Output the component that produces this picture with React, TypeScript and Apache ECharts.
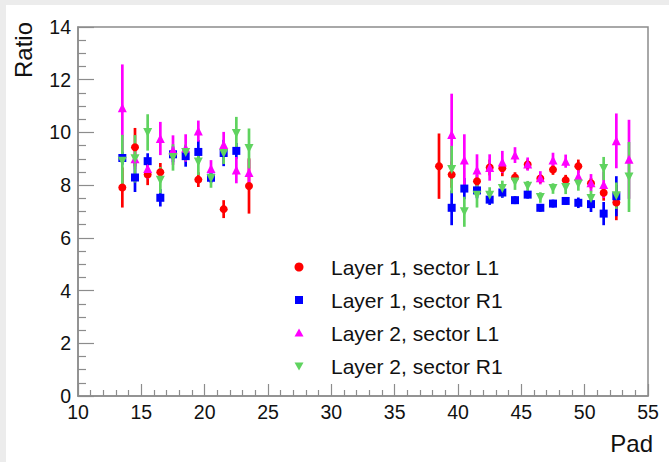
import React, { useEffect, useRef } from "react";
import * as echarts from "echarts";

// Layer 1, sector L1
const redPads = [13.5, 14.5, 15.5, 16.5, 19.5, 21.5, 23.5, 38.5, 39.5, 41.5, 42.5, 43.5, 44.5, 45.5, 46.5, 47.5, 48.5, 49.5, 50.5, 51.5, 52.5];
const redVals = [7.91, 9.44, 8.4, 8.49, 8.21, 7.09, 7.97, 8.72, 8.4, 8.15, 8.67, 8.64, 8.29, 8.78, 8.25, 8.59, 8.19, 8.72, 8.07, 7.71, 7.34];
const redErrs = [0.76, 0.73, 0.4, 0.35, 0.28, 0.34, 1.05, 1.24, 0.5, 0.25, 0.3, 0.3, 0.2, 0.2, 0.15, 0.2, 0.2, 0.25, 0.2, 0.3, 0.67];

// Layer 1, sector R1
const bluePads = [13.5, 14.5, 15.5, 16.5, 17.5, 18.5, 19.5, 20.5, 21.5, 22.5, 39.5, 40.5, 41.5, 42.5, 43.5, 44.5, 45.5, 46.5, 47.5, 48.5, 49.5, 50.5, 51.5, 52.5];
const blueVals = [9.03, 8.29, 8.91, 7.52, 9.17, 9.1, 9.26, 8.28, 9.22, 9.3, 7.14, 7.87, 7.8, 7.45, 7.72, 7.43, 7.64, 7.14, 7.3, 7.4, 7.33, 7.28, 6.92, 7.58];
const blueErrs = [0.25, 0.55, 0.3, 0.33, 0.3, 0.4, 0.45, 0.2, 0.5, 0.3, 0.66, 0.4, 0.3, 0.2, 0.2, 0.15, 0.15, 0.15, 0.15, 0.15, 0.2, 0.3, 0.44, 0.76];

// Layer 2, sector L1
const magPads = [13.5, 14.5, 15.5, 16.5, 17.5, 18.5, 19.5, 20.5, 21.5, 22.5, 23.5, 39.5, 40.5, 41.5, 42.5, 43.5, 44.5, 45.5, 46.5, 47.5, 48.5, 49.5, 50.5, 51.5, 52.5, 53.5];
const magVals = [10.94, 9.0, 8.63, 9.77, 9.33, 9.41, 10.05, 8.63, 9.54, 8.57, 8.48, 9.92, 8.95, 8.57, 8.67, 8.88, 9.14, 8.8, 8.28, 8.95, 8.91, 8.34, 8.09, 8.02, 9.68, 8.98];
const magErrs = [1.64, 0.4, 0.4, 0.63, 0.56, 0.52, 0.4, 0.32, 0.48, 0.5, 0.5, 1.55, 0.98, 0.6, 0.5, 0.42, 0.3, 0.25, 0.25, 0.28, 0.25, 0.3, 0.33, 0.5, 1.04, 1.5];

// Layer 2, sector R1
const greenPads = [13.5, 14.5, 15.5, 16.5, 17.5, 18.5, 19.5, 20.5, 21.5, 22.5, 23.5, 39.5, 40.5, 41.5, 42.5, 43.5, 44.5, 45.5, 46.5, 47.5, 48.5, 49.5, 50.5, 51.5, 52.5, 53.5];
const greenVals = [8.91, 9.0, 10.0, 8.19, 9.05, 9.24, 8.88, 8.25, 9.2, 9.96, 9.39, 8.59, 6.99, 7.62, 7.62, 7.87, 8.12, 7.96, 7.53, 7.87, 7.91, 8.04, 7.49, 8.63, 7.6, 8.31];
const greenErrs = [1.0, 0.9, 0.69, 0.5, 0.5, 0.3, 0.5, 0.35, 0.4, 0.63, 0.76, 0.9, 0.57, 0.47, 0.3, 0.3, 0.3, 0.2, 0.2, 0.2, 0.25, 0.25, 0.3, 0.44, 0.5, 1.33];

const seriesNames = ["Layer 1, sector L1", "Layer 1, sector R1", "Layer 2, sector L1", "Layer 2, sector R1"];
const xTitle = "Pad";
const yTitle = "Ratio";

const FONT = "'Liberation Sans', Arial, sans-serif";
const INV_TRI = "path://M0,0L10,0L5,8.66Z";

const defs = [
  { name: seriesNames[0], pads: redPads, vals: redVals, errs: redErrs, color: "#ff0000", symbol: "circle", size: 8 },
  { name: seriesNames[1], pads: bluePads, vals: blueVals, errs: blueErrs, color: "#0000ff", symbol: "rect", size: 8 },
  { name: seriesNames[2], pads: magPads, vals: magVals, errs: magErrs, color: "#ff00ff", symbol: "triangle", size: 9 },
  { name: seriesNames[3], pads: greenPads, vals: greenVals, errs: greenErrs, color: "#5fd35f", symbol: INV_TRI, size: 9 },
];

export default function App() {
  const ref = useRef<HTMLDivElement>(null);
  useEffect(() => {
    if (!ref.current) return;
    const chart = echarts.init(ref.current, null, { renderer: "svg" });
    const series: any[] = [];
    defs.forEach((d, k) => {
      const data = d.pads.map((p, i) => [p, d.vals[i], d.errs[i]]);
      series.push({
        type: "custom",
        name: "err" + k,
        data,
        encode: { x: 0, y: 1 },
        renderItem: (params: any, api: any) => {
          const x = api.value(0);
          const y = api.value(1);
          const e = api.value(2);
          const p1 = api.coord([x, y - e]);
          const p2 = api.coord([x, y + e]);
          return {
            type: "line",
            shape: { x1: p1[0], y1: p1[1], x2: p2[0], y2: p2[1] },
            style: { stroke: d.color, lineWidth: 2.7 },
          };
        },
      });
      series.push({
        type: "scatter",
        name: d.name,
        data: data.map((r) => [r[0], r[1]]),
        symbol: d.symbol,
        symbolSize: d.size,
        itemStyle: { color: d.color, opacity: 1 },
      });
    });

    const legendX = 299;
    const legendText = 331;
    const legendY0 = 267;
    const legendDy = 33;
    const legendGraphics: any[] = [];
    defs.forEach((d, k) => {
      const cy = legendY0 + k * legendDy;
      let mark: any;
      if (k === 0) mark = { type: "circle", shape: { cx: legendX, cy, r: 4.5 }, style: { fill: d.color } };
      else if (k === 1) mark = { type: "rect", shape: { x: legendX - 4, y: cy - 4, width: 8, height: 8 }, style: { fill: d.color } };
      else if (k === 2)
        mark = { type: "polygon", shape: { points: [[legendX, cy - 4.5], [legendX + 4.5, cy + 3.5], [legendX - 4.5, cy + 3.5]] }, style: { fill: d.color } };
      else
        mark = { type: "polygon", shape: { points: [[legendX - 4.5, cy - 3.5], [legendX + 4.5, cy - 3.5], [legendX, cy + 4.5]] }, style: { fill: d.color } };
      legendGraphics.push(mark);
      legendGraphics.push({
        type: "text",
        x: legendText,
        y: cy,
        style: { text: d.name, fontSize: 21, fontFamily: FONT, fill: "#111", align: "left", verticalAlign: "middle" },
      });
    });

    chart.setOption({
      animation: false,
      backgroundColor: "#ffffff",
      grid: {
        left: 78,
        right: 21,
        top: 27,
        bottom: 66,
        show: true,
        borderColor: "#8c8c8c",
        borderWidth: 1.5,
        backgroundColor: "transparent",
      },
      xAxis: {
        type: "value",
        min: 10,
        max: 55,
        interval: 5,
        axisLine: { show: true, lineStyle: { color: "#8c8c8c", width: 1.5 } },
        axisTick: { show: true, inside: true, length: 12, lineStyle: { color: "#8c8c8c", width: 1.2 } },
        minorTick: { show: true, splitNumber: 5, length: 6, lineStyle: { color: "#8c8c8c", width: 1.2 } },
        splitLine: { show: false },
        axisLabel: { fontSize: 19.5, fontFamily: FONT, color: "#111", margin: 6 },
      },
      yAxis: {
        type: "value",
        min: 0,
        max: 14,
        interval: 2,
        axisLine: { show: true, lineStyle: { color: "#8c8c8c", width: 1.5 } },
        axisTick: { show: true, inside: true, length: 16, lineStyle: { color: "#8c8c8c", width: 1.2 } },
        minorTick: { show: true, splitNumber: 4, length: 8, lineStyle: { color: "#8c8c8c", width: 1.2 } },
        splitLine: { show: false },
        axisLabel: { fontSize: 19.5, fontFamily: FONT, color: "#111", margin: 7 },
      },
      series,
      graphic: [
        { type: "rect", shape: { x: 0, y: 0, width: 669, height: 5 }, style: { fill: "#ececec" }, silent: true },
        { type: "rect", shape: { x: 0, y: 0, width: 6, height: 462 }, style: { fill: "#ececec" }, silent: true },
        {
          type: "text",
          x: 23,
          y: 50,
          rotation: Math.PI / 2,
          style: { text: yTitle, fontSize: 24, fontFamily: FONT, fill: "#111", align: "center", verticalAlign: "middle" },
        },
        {
          type: "text",
          x: 653,
          y: 443,
          style: { text: xTitle, fontSize: 24, fontFamily: FONT, fill: "#111", align: "right", verticalAlign: "middle" },
        },
        ...legendGraphics,
      ],
    });
    return () => chart.dispose();
  }, []);
  return <div ref={ref} style={{ position: "fixed", left: 0, top: 0, width: 669, height: 462 }} />;
}
